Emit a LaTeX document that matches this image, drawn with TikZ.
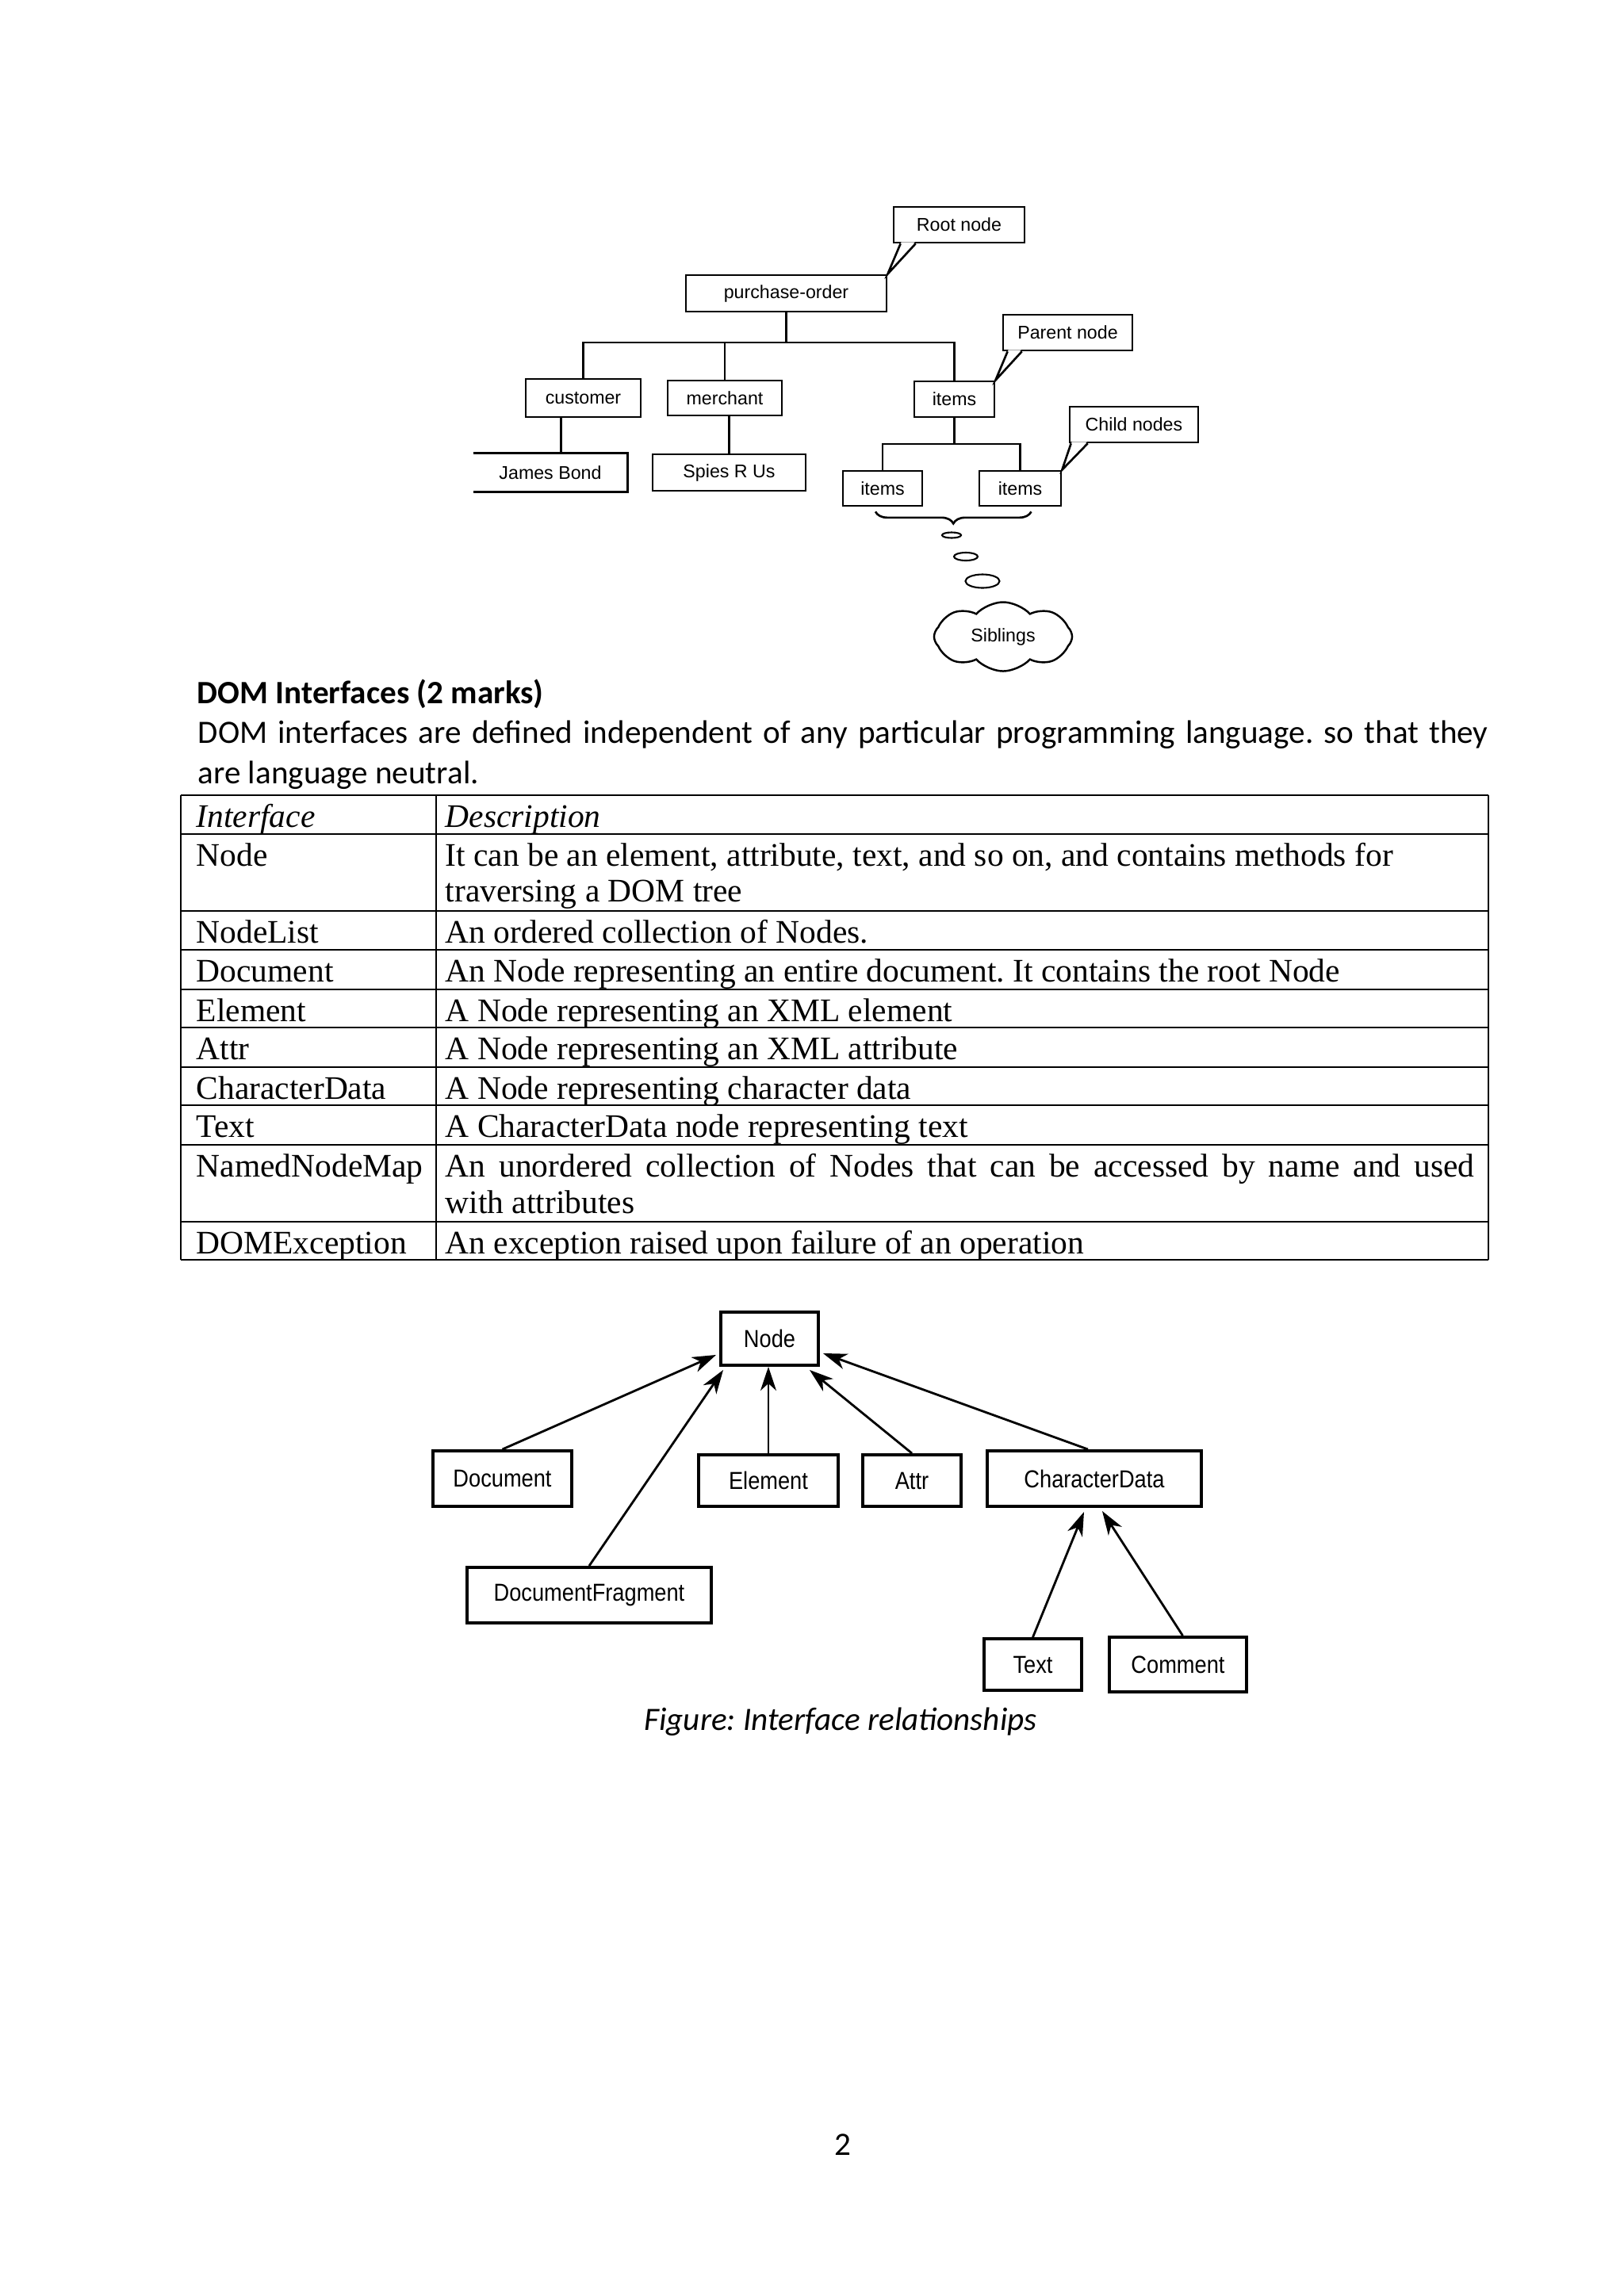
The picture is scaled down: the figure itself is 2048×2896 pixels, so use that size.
\documentclass[tikz,border=0pt]{standalone}
\usepackage{fontspec}
\setmainfont{Carlito}
\newfontfamily\tabfont{Liberation Serif}
\newfontfamily\treefont{Liberation Sans}
\newfontfamily\narrowfont[FakeStretch=0.88]{Liberation Sans}
\usetikzlibrary{shapes.geometric, shapes.symbols, arrows.meta, calc, decorations.pathreplacing}
\frenchspacing

\begin{document}
\begin{tikzpicture}[x=0.01cm, y=-0.01cm,
    treebox/.style={rectangle, draw, line width=0.75pt, inner sep=0pt, font=\fontsize{6.6}{8}\treefont},
    treeline/.style={line width=0.75pt},
    bubble/.style={ellipse, draw, line width=0.6pt, inner sep=0pt},
    ifacebox/.style={rectangle, draw, line width=1.1pt, inner sep=0pt, font=\fontsize{8.8}{10}\narrowfont},
    arrow/.style={-{Stealth[length=3mm, width=2mm, inset=0.9mm]}, line width=0.8pt},
    tabline/.style={line width=0.6pt},
    cell/.style={anchor=base west, inner sep=0pt, font=\fontsize{11.8}{13}\tabfont},
    bodytxt/.style={anchor=base west, inner sep=0pt, font=\fontsize{11.7}{13}\selectfont}
]
\useasboundingbox[fill=white] (0,0) rectangle (2048,2896);

% DOM tree
\node[treebox, minimum width=1.65cm, minimum height=0.45cm] (root) at (1209.5,283.5) {Root node};
\node[treebox, minimum width=2.53cm, minimum height=0.46cm] (po) at (991.5,370) {purchase-order};
\node[treebox, minimum width=1.45cm, minimum height=0.48cm] (cust) at (735.5,502) {customer};
\node[treebox, minimum width=1.44cm, minimum height=0.44cm] (mer) at (914,502) {merchant};
\node[treebox, minimum width=1.01cm, minimum height=0.45cm] (itm) at (1203.5,503.5) {items};
\node[treebox, minimum width=1.63cm, minimum height=0.45cm] (parent) at (1346.5,419.5) {Parent node};
\node[treebox, draw=none, minimum width=1.92cm, minimum height=0.46cm] (jb) at (694,596) {James Bond};
\node[treebox, minimum width=1.93cm, minimum height=0.46cm] (sru) at (919.5,596) {Spies R Us};
\node[treebox, minimum width=1.00cm, minimum height=0.44cm] (ch1) at (1113,616) {items};
\node[treebox, minimum width=1.03cm, minimum height=0.44cm] (ch2) at (1286.5,616) {items};
\node[treebox, minimum width=1.62cm, minimum height=0.45cm] (child) at (1430,535.5) {Child nodes};
\node[bubble, minimum width=0.24cm, minimum height=0.07cm] (b1) at (1200,675) {};
\node[bubble, minimum width=0.30cm, minimum height=0.10cm] (b2) at (1218,702) {};
\node[bubble, minimum width=0.43cm, minimum height=0.17cm] (b3) at (1239,733) {};
\node[cloud, draw, line width=0.7pt, cloud puffs=8, cloud puff arc=95, aspect=2,
      minimum width=1.74cm, minimum height=0.87cm, inner sep=0pt,
      font=\fontsize{6.6}{8}\treefont] (sib) at (1265,803) {Siblings};
\coordinate (bus) at (990,432);
\coordinate (cbus) at (1205,560);

\draw[treeline] (jb.north west) -- (jb.north east) -- (jb.south east) -- (jb.south west);
\draw[treeline] (po.south) -- (po.south |- bus);
\draw[treeline] (cust.north) |- (bus -| itm.north) -- (itm.north);
\draw[treeline] (mer.north) -- (mer.north |- bus);
\draw[treeline] ([xshift=-0.28cm]cust.south) -- ([xshift=-0.28cm]cust.south |- jb.north);
\draw[treeline] (sru.north) -- (sru.north |- mer.south);
\draw[treeline] (itm.south) -- (itm.south |- cbus);
\draw[treeline] (ch1.north) |- (cbus -| ch2.north) -- (ch2.north);
\draw[treeline, decorate, decoration={brace, mirror, amplitude=0.15cm}]
    ($(ch1.south)+(-9,6)$) -- ($(ch2.south)+(14,6)$);

% callout pointers
\fill[white] ($(root.south west)+(11,-2)$) -- (po.north east) -- ($(root.south west)+(28,-2)$) -- cycle;
\draw[treeline] ($(root.south west)+(10,0)$) -- (po.north east) -- ($(root.south west)+(29,0)$);
\fill[white] ($(parent.south west)+(8,-2)$) -- (itm.north east) -- ($(parent.south west)+(24,-2)$) -- cycle;
\draw[treeline] ($(parent.south west)+(7,0)$) -- (itm.north east) -- ($(parent.south west)+(25,0)$);
\fill[white] ($(child.south west)+(4,-2)$) -- (ch2.north east) -- ($(child.south west)+(23,-2)$) -- cycle;
\draw[treeline] ($(child.south west)+(3,0)$) -- (ch2.north east) -- ($(child.south west)+(24,0)$);

% text
\node[bodytxt, font=\fontsize{11.7}{13}\bfseries] (head) at (248,887) {DOM Interfaces (2 marks)};
\node[bodytxt] (intro1) at (249,937) {\makebox[16.26cm][s]{DOM interfaces are defined independent of any particular programming language. so that they}};
\node[bodytxt] (intro2) at (249,988) {are language neutral.};

% table
\foreach \y in {1003,1052,1149,1198,1248,1296,1346,1394,1444,1541,1589}
  \draw[tabline] (228,\y) -- (1877,\y);
\foreach \x in {228,550,1877}
  \draw[tabline] (\x,1003) -- (\x,1589);
\node[cell] (h1) at (247,1043) {\itshape Interface};
\node[cell] (h2) at (561,1043) {\itshape Description};
\node[cell] (r1) at (247,1092) {Node};
\node[cell] (d1) at (561,1092) {It can be an element, attribute, text, and so on, and contains methods for};
\node[cell] (d1b) at (561,1137) {traversing a DOM tree};
\node[cell] (r2) at (247,1189) {NodeList};
\node[cell] (d2) at (561,1189) {An ordered collection of Nodes.};
\node[cell] (r3) at (247,1238) {Document};
\node[cell] (d3) at (561,1238) {An Node representing an entire document. It contains the root Node};
\node[cell] (r4) at (247,1288) {Element};
\node[cell] (d4) at (561,1288) {A Node representing an XML element};
\node[cell] (r5) at (247,1336) {Attr};
\node[cell] (d5) at (561,1336) {A Node representing an XML attribute};
\node[cell] (r6) at (247,1386) {CharacterData};
\node[cell] (d6) at (561,1386) {A Node representing character data};
\node[cell] (r7) at (247,1434) {Text};
\node[cell] (d7) at (561,1434) {A CharacterData node representing text};
\node[cell] (r8) at (247,1484) {NamedNodeMap};
\node[cell] (d8) at (561,1484) {\makebox[12.97cm][s]{An unordered collection of Nodes that can be accessed by name and used}};
\node[cell] (d8b) at (561,1530) {with attributes};
\node[cell] (r9) at (247,1581) {DOMException};
\node[cell] (d9) at (561,1581) {An exception raised upon failure of an operation};

% interface relationships
\node[ifacebox, minimum width=1.23cm, minimum height=0.67cm] (nd) at (970.5,1688.5) {Node};
\node[ifacebox, minimum width=1.75cm, minimum height=0.70cm] (doc) at (633.5,1865) {Document};
\node[ifacebox, minimum width=1.76cm, minimum height=0.65cm] (ele) at (969,1867.5) {Element};
\node[ifacebox, minimum width=1.24cm, minimum height=0.65cm] (att) at (1150,1867.5) {Attr};
\node[ifacebox, minimum width=2.70cm, minimum height=0.70cm] (cd) at (1380,1865) {CharacterData};
\node[ifacebox, minimum width=3.08cm, minimum height=0.70cm] (frag) at (743,2012) {DocumentFragment};
\node[ifacebox, minimum width=1.23cm, minimum height=0.65cm] (txt) at (1302.5,2099.5) {Text};
\node[ifacebox, minimum width=1.73cm, minimum height=0.69cm] (com) at (1485.5,2099.5) {Comment};

\draw[arrow] (doc.north) -- ($(nd.south west)+(-4,-15)$);
\draw[arrow] (frag.north) -- ($(nd.south west)+(5,4)$);
\draw[arrow] (ele.north) -- (ele.north |- nd.south);
\draw[arrow] (att.north) -- ($(nd.south east)+(-13,4)$);
\draw[arrow] ($(cd.north)+(-8,0)$) -- ($(nd.south east)+(4,-17)$);
\draw[arrow] (txt.north) -- ($(cd.south)+(-13,5)$);
\draw[arrow] ($(com.north)+(6,0)$) -- ($(cd.south)+(10,4)$);

\node[bodytxt, anchor=base, font=\fontsize{11.7}{13}\itshape] (cap) at (1060,2182) {Figure: Interface relationships};
\node[bodytxt, anchor=base] (pageno) at (1063,2718) {2};
\end{tikzpicture}
\end{document}
